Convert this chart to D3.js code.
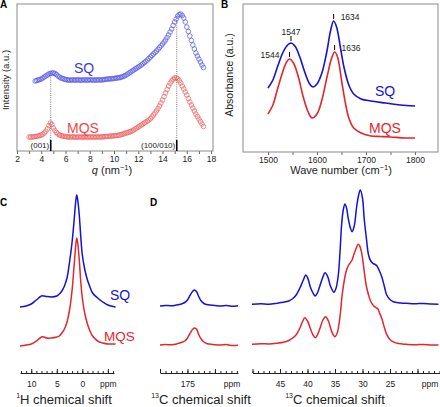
<!DOCTYPE html>
<html><head><meta charset="utf-8">
<script src="https://cdn.jsdelivr.net/npm/d3@7"></script>
<style>body{margin:0;background:#fff}svg{display:block;font-family:"Liberation Sans",Arial,sans-serif}</style>
</head><body><script>
// ---------- Panel A (SAXS/WAXS) ----------
const qSQ = [3.5,3.625,3.75,3.875,4,4.125,4.25,4.375,4.5,4.625,4.75,4.875,5,5.125,5.25,5.375,5.5,5.625,5.75,5.875,6,6.125,6.25,6.375,6.5,6.625,6.75,6.875,7,7.125,7.25,7.375,7.5,7.625,7.75,7.875,8,8.125,8.25,8.375,8.5,8.625,8.75,8.875,9,9.125,9.25,9.375,9.5,9.625,9.75,9.875,10,10.125,10.25,10.375,10.5,10.625,10.75,10.875,11,11.125,11.25,11.375,11.5,11.625,11.75,11.875,12,12.125,12.25,12.375,12.5,12.625,12.75,12.875,13,13.125,13.25,13.375,13.5,13.625,13.75,13.875,14,14.125,14.25,14.375,14.5,14.625,14.75,14.875,15,15.125,15.25,15.375,15.5,15.625,15.75,15.875,16,16.125,16.25,16.375,16.5,16.625,16.75,16.875,17,17.125,17.25,17.375];
const iSQ = [70,70.5,71,71.5,72,73,74,75,76,77,77.5,78,78,77.5,76.5,75,74,73,72.5,72,71.5,
  71.2,71,70.8,71,71.1,70.9,71,71.2,71,70.8,71,71.1,71,70.9,71,71.2,71,71,70.9,71.1,71,71.2,71,71.1,
  71.3,71.5,71.8,72,72,72.2,72.3,72.5,72.8,73,73.2,73.5,74,74.5,75.2,76,77,78,79,80,81,82,83,84,85,86,87.2,88.5,89.7,91,92.5,94,95.5,97,98.5,100,101.7,103.5,105.2,107,109,111,113.5,116,119,122,125.5,129,132,135,136.5,137,135.5,133,129,124,119.5,115,110.5,106,102,98,95,92,89,86,83.5];
const qMQS = [3,3.125,3.25,3.375,3.5,3.625,3.75,3.875,4,4.125,4.25,4.375,4.5,4.625,4.75,4.875,5,5.125,5.25,5.375,5.5,5.625,5.75,5.875,6,6.125,6.25,6.375,6.5,6.625,6.75,6.875,7,7.125,7.25,7.375,7.5,7.625,7.75,7.875,8,8.125,8.25,8.375,8.5,8.625,8.75,8.875,9,9.125,9.25,9.375,9.5,9.625,9.75,9.875,10,10.125,10.25,10.375,10.5,10.625,10.75,10.875,11,11.125,11.25,11.375,11.5,11.625,11.75,11.875,12,12.125,12.25,12.375,12.5,12.625,12.75,12.875,13,13.125,13.25,13.375,13.5,13.625,13.75,13.875,14,14.125,14.25,14.375,14.5,14.625,14.75,14.875,15,15.125,15.25,15.375,15.5,15.625,15.75,15.875,16,16.125,16.25,16.375,16.5,16.625,16.75,16.875,17,17.125,17.25,17.375];
const iMQS = [14,14,14,14.2,14.5,14.7,15,15.4,16,16.8,18,19.8,22,25.5,28,26.5,23,20.5,18.5,17,16,15.4,15,14.7,14.5,
  14.2,14,13.9,14,14.1,14,13.8,14,14.1,14,13.9,14,14.2,14,13.9,14,14,14.1,13.9,14,14.1,14,14,14.1,
  14.2,14.4,14.5,14.6,14.8,15,15,15.2,15.4,15.6,15.8,16.1,16.5,17,17.5,18,18.5,19,19.5,20.2,21,22,23,24,25,26,27,28,29,30,31,32.3,34,36,38,40.2,42.5,45,48,51,54.5,58,61.5,65,67.8,70,71.8,73,73.2,72.3,70.4,68,65,62,59,56,52.5,49,46,43,40,37,34.5,32,29.5,27,24.5];
const qTicksA = [2,3,4,5,6,7,8,9,10,11,12,13,14,15,16,17,18];
const reflQ = [4.78, 15.17];
const reflLabels = ["(001)", "(100/010)"];

// ---------- Panel B (FTIR) ----------
const wnSQ = [1500,1510,1520,1530,1540,1547,1555,1565,1575,1585,1592,1600,1610,1620,1628,1634,1640,1648,1655,1665,1675,1690,1710,1740,1770,1800];
const aSQ  = [64,72,86,99,107,109,106,95,80,68,65,68,79,100,122,131,125,104,85,67,58,53,51,49,47,46];
const wnMQS = [1500,1510,1520,1530,1538,1544,1552,1562,1572,1582,1590,1600,1610,1620,1630,1636,1642,1650,1658,1665,1675,1690,1710,1730,1750,1780,1800];
const aMQS  = [38,47,64,80,90,93,89,75,55,40,34,38,52,74,94,100,95,72,49,34,24,19,16,15.5,15,14,14];
const wnTicks = [1500,1550,1600,1650,1700,1750,1800];
const peaksSQ = [1547, 1634];
const peaksMQS = [1544, 1636];

// ---------- Panel C (1H NMR) ----------
const hPpm = [12.2,11,10,9,8,7.5,7,6,5,4.5,4,3.5,3,2.5,2,1.6,1.3,1.1,0.9,0.6,0.3,0,-0.5,-1,-1.5,-2,-3,-4,-5,-6.5];
const hSQ  = [43,44,46,50,54,54,53.5,53,54,56,59,64,72,88,108,130,148,155,150,135,113,95,80,70,63,57,52,48,45,43];
const hMQS = [4,5,6,9,13,13,12,12,13,14,17,21,28,40,60,85,104,112,107,90,68,52,36,26,19,14,9,7,6,6];
const hMajor = [10,5,0,-5];
const hMinor = [12,11,10,9,8,7,6,5,4,3,2,1,0,-1,-2,-3,-4,-5,-6];

// ---------- Panel D (13C NMR) ----------
const cLPpm = [180,179,178,177,176.5,176,175.5,175,174.5,174,173.7,173.3,173,172.5,172,171.5,171,170,169,168,167,165.8];
const cLSQ  = [44,44.6,44.3,45,45.5,46.3,47.5,50,55,59,60,58,54,49,46.5,45.5,45,44.6,44,44.5,43.8,44.3];
const cLMQS = [5,5.4,5.2,6,7,7.8,9,12,17,21,22,20.5,16,11,8,6.5,6,5.3,5,5.4,4.6,4.8];
const cRPpm = [50.1,48.5,47,45.5,44.4,43.4,42.6,42,41.4,40.8,40.3,39.9,39.5,39,38.6,38.2,37.7,37.2,36.8,36.3,35.9,35.5,35.2,34.8,34.4,34.1,33.8,33.5,33.2,32.9,32.6,32.2,31.9,31.5,31.1,30.7,30.4,30,29.7,29.3,28.9,28.5,28.1,27.7,27.4,27,26.5,26,25.6,25,24.4,23.5,22,20.5,19,17.5,16.2];
const cRSQ  = [45.7,46.3,45.8,46.8,47.7,49,51.7,55.5,61.7,69.5,75,71,63.3,57,54,57,65,73,77.3,73,65,60,57.7,62,75,97,125,140,146,142,131.7,122,118.3,124,141.7,155,160,152,131.7,112,95,89,86.7,85.5,84.3,80,73.3,63,55,50.5,48.3,47.2,46.7,46.2,46.6,45.9,45.7];
const cRPpm2 = [50.1,48.5,47,45.5,44.4,43.4,42.4,41.9,41.4,40.9,40.5,40,39.5,39,38.6,38.2,37.7,37.2,36.7,36.2,35.8,35.4,35,34.6,34.3,34,33.7,33.3,32.9,32.6,32.3,31.9,31.6,31.2,30.8,30.5,30.2,29.9,29.6,29.3,28.9,28.5,28,27.6,27.2,26.9,26.5,26,25.6,25,24.5,23.5,22,20.5,19,17.5,16.2];
const cRMQS = [5.7,6.3,6,6.8,7.7,9.5,13.3,16.5,21.7,28.5,32.3,29,21.7,15,12.3,15,22.3,30,33.3,29,21.7,16,13.3,17,25,38,55,70,80,84,86.7,90,95,101,105.7,104,98.3,88,75,64,55,48.5,44.3,42.5,41,37,31.7,22,15.7,10.5,8.3,6.5,5.7,5.2,5.6,5,5];
const cLMajor = [180,175,170];
const cLMinor = [180,179,178,177,176,175,174,173,172,171,170,169,168,167,166];
const cRMajor = [50,45,40,35,30,25,20];
const cRMinor = [50,49,48,47,46,45,44,43,42,41,40,39,38,37,36,35,34,33,32,31,30,29,28,27,26,25,24,23,22,21,20,19,18,17,16];

const colSQa = "#5151e4", colMQSa = "#ef5b5b";
const colSQ = "#1212d8", colMQS = "#e3262b";

const svg = d3.select("body").append("svg").attr("width",440).attr("height",407);

function letter(t,x,y){ svg.append("text").attr("x",x).attr("y",y).attr("font-size",10).attr("font-weight","bold").text(t); }
function label(t,x,y,c,fs){ svg.append("text").attr("x",x).attr("y",y).attr("fill",c).attr("font-size",fs).text(t); }

// ================= Panel A =================
const xA = d3.scaleLinear().domain([2,18.16]).range([17,213]);
const yA = d3.scaleLinear().domain([0,147]).range([151,4]);
letter("A",0,8);
const gAx = svg.append("g").attr("transform","translate(0,151)")
  .call(d3.axisBottom(xA).tickValues(qTicksA).tickFormat(d=>d%2===0?d:"").tickSize(3).tickPadding(2));
gAx.select(".domain").remove();
gAx.selectAll("line").attr("stroke","#666");
gAx.selectAll("text").attr("font-size",8.5).attr("font-family","Liberation Sans").attr("fill","#222");
svg.append("rect").attr("x",17).attr("y",4).attr("width",196).attr("height",147).attr("fill","none").attr("stroke","#8a8a8a");
const sqAtRefl = reflQ.map(q=>{const i=d3.bisector(d=>d).center(qSQ,q);return d3.max(iSQ.slice(Math.max(0,i-1),i+2));});
svg.selectAll(".guide").data(reflQ).join("line")
  .attr("x1",d=>xA(d)).attr("x2",d=>xA(d)).attr("y1",(d,i)=>yA(sqAtRefl[i])).attr("y2",151)
  .attr("stroke","#555").attr("stroke-width",0.8).attr("stroke-dasharray","1,1.2");
svg.selectAll(".refbar").data(reflQ).join("line")
  .attr("x1",d=>xA(d)).attr("x2",d=>xA(d)).attr("y1",140).attr("y2",151)
  .attr("stroke","#000").attr("stroke-width",1.6);
svg.selectAll(".reflab").data(reflQ).join("text")
  .attr("x",d=>xA(d)-1.5).attr("y",148).attr("text-anchor","end").attr("font-size",8).attr("fill","#222")
  .text((d,i)=>reflLabels[i]);
svg.append("g").selectAll("circle").data(qMQS.map((q,i)=>[q,iMQS[i]])).join("circle")
  .attr("cx",d=>xA(d[0])).attr("cy",d=>yA(d[1])).attr("r",2.3).attr("fill","none").attr("stroke",colMQSa).attr("stroke-width",0.7);
svg.append("g").selectAll("circle").data(qSQ.map((q,i)=>[q,iSQ[i]])).join("circle")
  .attr("cx",d=>xA(d[0])).attr("cy",d=>yA(d[1])).attr("r",2.3).attr("fill","none").attr("stroke",colSQa).attr("stroke-width",0.7);
label("SQ",74,73,"#3a3ae0",14);
label("MQS",67,133,"#ec4a4a",14);
svg.append("text").attr("transform","translate(8.5,80) rotate(-90)").attr("text-anchor","middle").attr("font-size",9.5).attr("fill","#222").text("Intensity (a.u.)");
const qt = svg.append("text").attr("x",112).attr("y",174).attr("text-anchor","middle").attr("font-size",11).attr("fill","#222");
qt.append("tspan").attr("font-style","italic").text("q");
qt.append("tspan").text(" (nm");
qt.append("tspan").attr("font-size",7.5).attr("dy",-4).text("−1");
qt.append("tspan").attr("dy",4).text(")");

// ================= Panel B =================
const xB = d3.scaleLinear().domain([1449,1847]).range([243,438]);
const yB = d3.scaleLinear().domain([0,148]).range([152,4]);
letter("B",221,8);
const gBx = svg.append("g").attr("transform","translate(0,152)")
  .call(d3.axisBottom(xB).tickValues(wnTicks).tickFormat(d=>d%100===0?d:"").tickSize(3).tickPadding(2));
gBx.select(".domain").remove();
gBx.selectAll("line").attr("stroke","#666");
gBx.selectAll("text").attr("font-size",8.5).attr("font-family","Liberation Sans").attr("fill","#222");
svg.append("rect").attr("x",243).attr("y",4).attr("width",195).attr("height",148).attr("fill","none").attr("stroke","#8a8a8a");
const lineB = d3.line().x(d=>xB(d[0])).y(d=>yB(d[1])).curve(d3.curveCatmullRom);
svg.append("path").attr("d",lineB(wnMQS.map((w,i)=>[w,aMQS[i]]))).attr("fill","none").attr("stroke",colMQS).attr("stroke-width",1.6);
svg.append("path").attr("d",lineB(wnSQ.map((w,i)=>[w,aSQ[i]]))).attr("fill","none").attr("stroke",colSQ).attr("stroke-width",1.6);
function valAt(ws,vs,w){const i=d3.bisector(d=>d).center(ws,w);return vs[i];}
const pk = [
  {w:peaksSQ[0], v:valAt(wnSQ,aSQ,peaksSQ[0]), pos:"top"},
  {w:peaksSQ[1], v:valAt(wnSQ,aSQ,peaksSQ[1]), pos:"right"},
  {w:peaksMQS[0], v:valAt(wnMQS,aMQS,peaksMQS[0]), pos:"left"},
  {w:peaksMQS[1], v:valAt(wnMQS,aMQS,peaksMQS[1]), pos:"right"}];
svg.selectAll(".pkt").data(pk).join("line")
  .attr("x1",d=>xB(d.w)).attr("x2",d=>xB(d.w)).attr("y1",d=>yB(d.v)-2).attr("y2",d=>yB(d.v)-7)
  .attr("stroke","#000").attr("stroke-width",1);
svg.selectAll(".pkl").data(pk).join("text")
  .attr("x",d=>d.pos==="top"?xB(d.w):d.pos==="right"?xB(d.w)+7:xB(d.w)-10)
  .attr("y",d=>d.pos==="top"?yB(d.v)-8:yB(d.v)-1.5)
  .attr("text-anchor",d=>d.pos==="top"?"middle":d.pos==="right"?"start":"end")
  .attr("font-size",8.5).attr("fill","#222").text(d=>d.w);
label("SQ",375,96,colSQ,14);
label("MQS",369,133,colMQS,14);
svg.append("text").attr("transform","translate(233,75) rotate(-90)").attr("text-anchor","middle").attr("font-size",10.5).attr("fill","#222").text("Absorbance (a.u.)");
const wt = svg.append("text").attr("x",341).attr("y",174).attr("text-anchor","middle").attr("font-size",11).attr("fill","#222");
wt.append("tspan").text("Wave number (cm");
wt.append("tspan").attr("font-size",7.5).attr("dy",-4).text("−1");
wt.append("tspan").attr("dy",4).text(")");

// ================= NMR helpers =================
const yN = d3.scaleLinear().domain([0,170]).range([350,180]);
function nmrAxis(x, major, minor, fmt){
  const gm = svg.append("g").attr("transform","translate(0,373)")
    .call(d3.axisBottom(x).tickValues(minor).tickFormat("").tickSizeInner(-2).tickSizeOuter(0));
  gm.select(".domain").attr("stroke","#222");
  gm.selectAll("line").attr("stroke","#222");
  const g = svg.append("g").attr("transform","translate(0,373)")
    .call(d3.axisBottom(x).tickValues(major).tickFormat(fmt).tickSizeInner(-4).tickSizeOuter(0).tickPadding(8));
  g.select(".domain").remove();
  g.selectAll("line").attr("stroke","#222");
  g.selectAll("text").attr("font-size",8.5).attr("font-family","Liberation Sans").attr("fill","#222");
}
function nmrTitle(x, sup, rest){
  const t = svg.append("text").attr("x",x).attr("y",404).attr("text-anchor","middle").attr("font-size",13).attr("fill","#222");
  t.append("tspan").attr("font-size",7).attr("dy",-6).text(sup);
  t.append("tspan").attr("dy",6).text(rest);
}

// ================= Panel C =================
letter("C",0,206);
const xC = d3.scaleLinear().domain([12.2,-6.2]).range([20,114]);
const lineC = d3.line().x(d=>xC(d[0])).y(d=>yN(d[1])).curve(d3.curveCatmullRom);
svg.append("path").attr("d",lineC(hPpm.map((p,i)=>[p,hMQS[i]]))).attr("fill","none").attr("stroke",colMQS).attr("stroke-width",1.5);
svg.append("path").attr("d",lineC(hPpm.map((p,i)=>[p,hSQ[i]]))).attr("fill","none").attr("stroke",colSQ).attr("stroke-width",1.5);
nmrAxis(xC, hMajor, hMinor, d=>d===-5?"ppm":d);
label("SQ",110,300,colSQ,14);
label("MQS",104,341,colMQS,13.5);
nmrTitle(64,"1","H chemical shift");

// ================= Panel D =================
letter("D",150,206);
const xDL = d3.scaleLinear().domain([180,165.8]).range([160,238]);
const xDR = d3.scaleLinear().domain([50,16]).range([252.5,439.5]);
const lineDL = d3.line().x(d=>xDL(d[0])).y(d=>yN(d[1])).curve(d3.curveCatmullRom);
const lineDR = d3.line().x(d=>xDR(d[0])).y(d=>yN(d[1])).curve(d3.curveCatmullRom);
svg.append("path").attr("d",lineDL(cLPpm.map((p,i)=>[p,cLMQS[i]]))).attr("fill","none").attr("stroke",colMQS).attr("stroke-width",1.5);
svg.append("path").attr("d",lineDL(cLPpm.map((p,i)=>[p,cLSQ[i]]))).attr("fill","none").attr("stroke",colSQ).attr("stroke-width",1.5);
svg.append("path").attr("d",lineDR(cRPpm2.map((p,i)=>[p,cRMQS[i]]))).attr("fill","none").attr("stroke",colMQS).attr("stroke-width",1.5);
svg.append("path").attr("d",lineDR(cRPpm.map((p,i)=>[p,cRSQ[i]]))).attr("fill","none").attr("stroke",colSQ).attr("stroke-width",1.5);
nmrAxis(xDL, cLMajor, cLMinor, d=>d===175?d:"");
nmrAxis(xDR, cRMajor, cRMinor, d=>(d>=25&&d<=45)?d:"");
svg.append("text").attr("x",232).attr("y",387).attr("text-anchor","middle").attr("font-size",8.5).attr("fill","#222").text("ppm");
svg.append("text").attr("x",430).attr("y",387).attr("text-anchor","middle").attr("font-size",8.5).attr("fill","#222").text("ppm");
nmrTitle(201,"13","C chemical shift");
nmrTitle(335,"13","C chemical shift");
</script></body></html>
